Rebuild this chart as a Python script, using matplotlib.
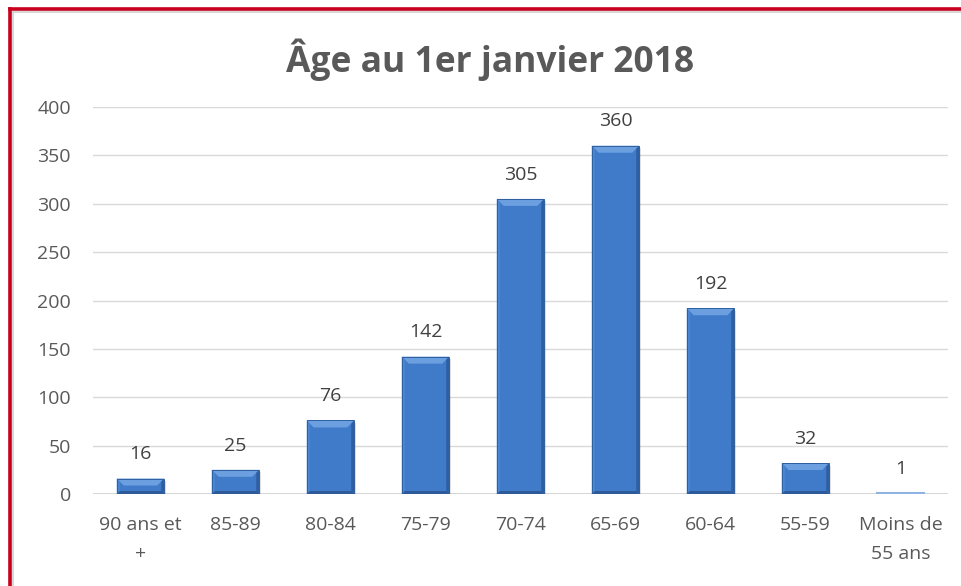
import matplotlib
matplotlib.use("Agg")
import matplotlib.pyplot as plt
from matplotlib.patches import Polygon, Rectangle
from matplotlib.lines import Line2D

categories = ["90 ans et\n+", "85-89", "80-84", "75-79", "70-74", "65-69", "60-64", "55-59", "Moins de\n55 ans"]
values = [16, 25, 76, 142, 305, 360, 192, 32, 1]
yticks = [0, 50, 100, 150, 200, 250, 300, 350, 400]
title = "Âge au 1er janvier 2018"

plt.rcParams['font.family'] = ['Open Sans', 'DejaVu Sans']

W, H = 962, 586
fig = plt.figure(figsize=(W / 100, H / 100), dpi=100)
ax = fig.add_axes([93 / W, 1 - 494 / H, (948 - 93) / W, (494 - 107) / H])
ax.set_xlim(-0.5, len(categories) - 0.5)
ax.set_ylim(0, 400)

# frame: red outer border, grey inner border
fig.add_artist(Line2D([9.5 / W, 9.5 / W], [0, 1 - 8.5 / H], transform=fig.transFigure, color="#c8001e", lw=2.6))
fig.add_artist(Line2D([9.5 / W, 1], [1 - 8.5 / H, 1 - 8.5 / H], transform=fig.transFigure, color="#c8001e", lw=2.6))
fig.add_artist(Line2D([12.5 / W, 12.5 / W], [0, 1 - 11.5 / H], transform=fig.transFigure, color="#d0d0d0", lw=1.2))
fig.add_artist(Line2D([12.5 / W, 1], [1 - 11.5 / H, 1 - 11.5 / H], transform=fig.transFigure, color="#d0d0d0", lw=1.2))

for s in ax.spines.values():
    s.set_visible(False)
ax.set_yticks(yticks)
ax.yaxis.grid(True, color="#d9d9d9", lw=1.0)
ax.set_axisbelow(True)
ax.axhline(0, color="#d0d0d0", lw=1.2, zorder=1)
ax.tick_params(length=0, labelsize=14, colors="#595959")
ax.tick_params(axis='y', pad=16)
ax.tick_params(axis='x', pad=16)
ax.set_xticks(range(len(categories)))
ax.set_xticklabels(categories, linespacing=1.8)

fig.text(490 / W, 1 - 60 / H, title, ha="center", va="center", fontsize=25.5, fontweight="bold", color="#595959")

bw = 0.5
px_x = (948 - 93) / 9.0       # pixels per category
px_y = (494 - 107) / 400.0    # pixels per unit
bev = 7.0
side = 3.0

for i, v in enumerate(values):
    x0, x1 = i - bw / 2, i + bw / 2
    if v < 3:
        ax.plot([x0, x1], [v, v], color="#8fb4e3", lw=1.5, zorder=3)
    else:
        hpx = v * px_y
        b = min(bev, hpx / 2.0)
        dx = b / px_x
        dy = b / px_y
        sx = side / px_x
        sy = min(side, hpx / 3.0) / px_y
        # shadow
        ax.add_patch(Rectangle((x0 + 2 / px_x, -2.5 / px_y), bw, v, facecolor="#000000", alpha=0.13, lw=0, zorder=2))
        ax.add_patch(Rectangle((x0, 0), bw, v, facecolor="#3f7bc9", lw=0, zorder=3))
        # top bevel (light)
        ax.add_patch(Polygon([(x0, v), (x1, v), (x1 - dx, v - dy), (x0 + dx, v - dy)], closed=True,
                             facecolor="#6c9fe0", lw=0, zorder=4))
        # right side (dark)
        ax.add_patch(Polygon([(x1, 0), (x1, v), (x1 - sx, v - sy), (x1 - sx, sy)], closed=True,
                             facecolor="#2e5fa3", lw=0, zorder=4))
        # bottom side (dark)
        ax.add_patch(Polygon([(x0, 0), (x1, 0), (x1 - sx, sy), (x0 + sx, sy)], closed=True,
                             facecolor="#2d5b9a", lw=0, zorder=4))
        # left side (slightly light)
        ax.add_patch(Polygon([(x0, 0), (x0, v), (x0 + sx, v - sy), (x0 + sx, sy)], closed=True,
                             facecolor="#4a86d2", lw=0, zorder=4))
        ax.add_patch(Rectangle((x0, 0), bw, v, facecolor="none", edgecolor="#2f5f9e", lw=0.7, zorder=5))
    ax.annotate(str(v), (i, v), xytext=(0, 11), textcoords="offset points", ha="center", va="bottom",
                fontsize=14, color="#404040")

fig.savefig("out.png", dpi=100, facecolor="white")
